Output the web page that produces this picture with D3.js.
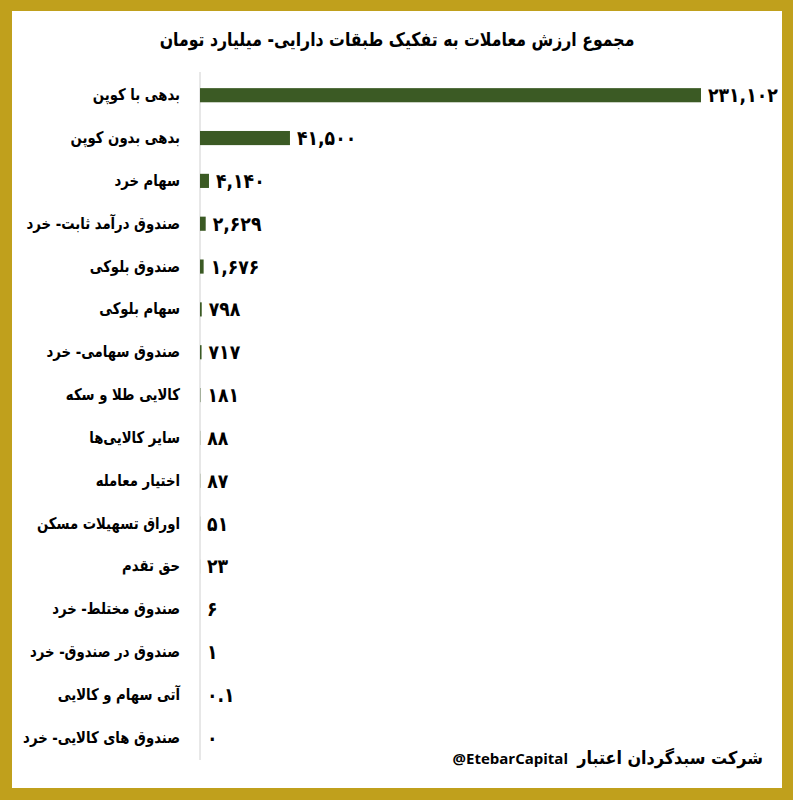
<!DOCTYPE html>
<html>
<head>
<meta charset="utf-8">
<script src="https://cdn.jsdelivr.net/npm/d3@7"></script>
<style>
  html, body { margin: 0; padding: 0; background: #fff; }
  svg { display: block; }
  text { font-family: "DejaVu Sans Condensed", "DejaVu Sans", sans-serif; font-stretch: condensed; }
</style>
</head>
<body>
<svg id="chart" width="793" height="800"></svg>
<script>
const categories = [
  "بدهی با کوپن",
  "بدهی بدون کوپن",
  "سهام خرد",
  "صندوق درآمد ثابت- خرد",
  "صندوق بلوکی",
  "سهام بلوکی",
  "صندوق سهامی- خرد",
  "کالایی طلا و سکه",
  "سایر کالایی‌ها",
  "اختیار معامله",
  "اوراق تسهیلات مسکن",
  "حق تقدم",
  "صندوق مختلط- خرد",
  "صندوق در صندوق- خرد",
  "آتی سهام و کالایی",
  "صندوق های کالایی- خرد"
];
const values = [231102, 41500, 4140, 2629, 1676, 798, 717, 181, 88, 87, 51, 23, 6, 1, 0.1, 0];
const valueLabels = ["۲۳۱,۱۰۲", "۴۱,۵۰۰", "۴,۱۴۰", "۲,۶۲۹", "۱,۶۷۶", "۷۹۸", "۷۱۷", "۱۸۱", "۸۸", "۸۷", "۵۱", "۲۳", "۶", "۱", "۰.۱", "۰"];
const title = "مجموع ارزش معاملات به تفکیک طبقات دارایی- میلیارد تومان";
const footerLatin = "@EtebarCapital";
const footerPersian = "شرکت سبدگردان اعتبار";

const svg = d3.select("#chart");
const W = 793, H = 800;
const gold = "#c0a01c", green = "#3b5a24", ink = "#000";

// frame
svg.append("rect").attr("x", 0).attr("y", 0).attr("width", W).attr("height", H).attr("fill", gold);
svg.append("rect").attr("x", 12).attr("y", 11).attr("width", 770).attr("height", 777).attr("fill", "#fff");

// title
svg.append("text").attr("transform", "translate(397,46) scale(0.92,1)").attr("text-anchor", "middle")
  .attr("font-size", 19).attr("font-weight", "bold").attr("fill", ink).text(title);

const x = d3.scaleLinear().domain([0, 231102]).range([200, 701]);
const y = d3.scaleBand().domain(categories).range([74, 759]).paddingInner(0.67).paddingOuter(0.33);

// axis line
svg.append("line").attr("x1", 200).attr("x2", 200).attr("y1", 72).attr("y2", 760)
  .attr("stroke", "#d0d0d0").attr("stroke-width", 1);

const rows = svg.append("g").selectAll("g").data(categories).join("g");

rows.append("rect")
  .attr("x", x(0))
  .attr("y", d => y(d))
  .attr("width", (d, i) => x(values[i]) - x(0))
  .attr("height", y.bandwidth())
  .attr("fill", green);

rows.append("text")
  .attr("transform", d => `translate(180,${y(d) + y.bandwidth() / 2 + 5}) scale(0.92,1)`)
  .attr("text-anchor", "end")
  .attr("font-size", 16).attr("font-weight", "bold").attr("fill", ink)
  .text(d => d);

rows.append("text")
  .attr("transform", (d, i) => `translate(${x(values[i]) + 7},${y(d) + y.bandwidth() / 2 + 7}) scale(0.96,1)`)
  .attr("text-anchor", "start")
  .attr("font-size", 20).attr("font-weight", "bold").attr("fill", ink)
  .text((d, i) => valueLabels[i]);

// footer
svg.append("text").attr("x", 763).attr("y", 764).attr("text-anchor", "end")
  .attr("font-size", 17.8).attr("font-weight", "bold").attr("fill", ink).text(footerPersian);
svg.append("text").attr("x", 568).attr("y", 764).attr("text-anchor", "end")
  .style("font-family", "'Open Sans', sans-serif").style("font-stretch", "normal")
  .attr("font-size", 15).attr("font-weight", "bold").attr("fill", ink).text(footerLatin);
</script>
</body>
</html>
